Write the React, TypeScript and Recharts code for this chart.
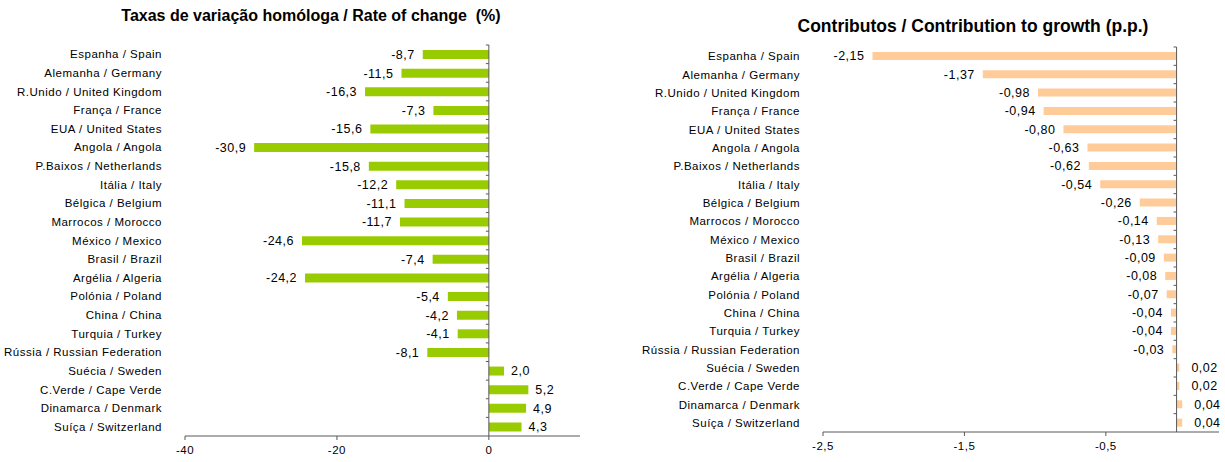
import React from "react";
import {
  BarChart,
  Bar,
  XAxis,
  YAxis,
  ReferenceLine,
  LabelList
} from "recharts";

const countries = [
  "Espanha / Spain",
  "Alemanha / Germany",
  "R.Unido / United Kingdom",
  "França / France",
  "EUA / United States",
  "Angola / Angola",
  "P.Baixos / Netherlands",
  "Itália / Italy",
  "Bélgica / Belgium",
  "Marrocos / Morocco",
  "México / Mexico",
  "Brasil / Brazil",
  "Argélia / Algeria",
  "Polónia / Poland",
  "China / China",
  "Turquia / Turkey",
  "Rússia / Russian Federation",
  "Suécia / Sweden",
  "C.Verde / Cape Verde",
  "Dinamarca / Denmark",
  "Suíça / Switzerland"
];

const rateOfChange = [
  -8.7, -11.5, -16.3, -7.3, -15.6, -30.9, -15.8, -12.2, -11.1, -11.7, -24.6,
  -7.4, -24.2, -5.4, -4.2, -4.1, -8.1, 2.0, 5.2, 4.9, 4.3
];

const contribution = [
  -2.15, -1.37, -0.98, -0.94, -0.8, -0.63, -0.62, -0.54, -0.26, -0.14, -0.13,
  -0.09, -0.08, -0.07, -0.04, -0.04, -0.03, 0.02, 0.02, 0.04, 0.04
];

const leftTicks = [-40, -20, 0];
const rightTicks = [-2.5, -1.5, -0.5];

const rateData = countries.map((name, i) => ({ name, v: rateOfChange[i] }));
const contribData = countries.map((name, i) => ({ name, v: contribution[i] }));

const FONT = "'Liberation Sans', Arial, sans-serif";
const AXIS = "#595959";
const tickStyle = { fill: "#000", fontSize: 11.5, fontFamily: FONT, letterSpacing: 0.5 };

const fmt = (d: number) => (v: number) => v.toFixed(d).replace(".", ",");

function makeLabel(decimals: number, gapNeg: number, gapPos: number) {
  return (props: any) => {
    const { x, y, width, height, value } = props;
    const left = Math.min(x, x + width);
    const right = Math.max(x, x + width);
    const neg = value < 0;
    return (
      <text
        x={neg ? left - gapNeg : right + gapPos}
        y={y + height / 2}
        dy="0.35em"
        textAnchor={neg ? "end" : "start"}
        fontSize={12.5}
        letterSpacing={0.5}
        fontFamily={FONT}
        fill="#000"
      >
        {fmt(decimals)(value)}
      </text>
    );
  };
}

// zero line acting as the category axis, with small ticks between categories
function zeroAxis(n: number) {
  return (props: any) => {
    const { x1, y1, x2, y2 } = props;
    const top = Math.min(y1, y2);
    const bot = Math.max(y1, y2);
    const step = (bot - top) / n;
    const marks = [];
    for (let i = 0; i < n; i++) {
      const yy = top + i * step;
      marks.push(<line key={i} x1={x1 - 3} x2={x1} y1={yy} y2={yy} stroke={AXIS} />);
    }
    return (
      <g>
        <line x1={x1} x2={x2} y1={y1} y2={y2} stroke={AXIS} />
        {marks}
      </g>
    );
  };
}

function HBars(props: {
  data: { name: string; v: number }[];
  width: number;
  height: number;
  margin: { top: number; right: number; bottom: number; left: number };
  yWidth: number;
  domain: [number, number];
  ticks: number[];
  tickDecimals: number;
  labelDecimals: number;
  posGap: number;
  fill: string;
  xHeight: number;
  gap: string;
}) {
  return (
    <BarChart
      width={props.width}
      height={props.height}
      data={props.data}
      layout="vertical"
      margin={props.margin}
      barCategoryGap={props.gap}
    >
      <XAxis
        type="number"
        domain={props.domain}
        ticks={props.ticks}
        allowDataOverflow
        tickFormatter={fmt(props.tickDecimals)}
        stroke={AXIS}
        tick={tickStyle}
        tickSize={4}
        tickMargin={6}
        height={props.xHeight}
      />
      <YAxis
        type="category"
        dataKey="name"
        width={props.yWidth}
        axisLine={false}
        tickLine={false}
        tickSize={21}
        interval={0}
        tick={tickStyle}
      />
      <Bar dataKey="v" fill={props.fill} isAnimationActive={false}>
        <LabelList dataKey="v" content={makeLabel(props.labelDecimals, 8, props.posGap)} />
      </Bar>
      <ReferenceLine x={0} stroke={AXIS} shape={zeroAxis(props.data.length)} />
    </BarChart>
  );
}

export default function App() {
  return (
    <div
      style={{
        position: "absolute",
        left: 0,
        top: 0,
        width: 1225,
        height: 462,
        background: "#fff",
        fontFamily: FONT
      }}
    >
      <div
        style={{
          position: "absolute",
          left: 0,
          width: 622,
          top: 7,
          textAlign: "center",
          fontWeight: "bold",
          fontSize: 16
        }}
      >
        Taxas de variação homóloga / Rate of change&nbsp;&nbsp;(%)
      </div>
      <div
        style={{
          position: "absolute",
          left: 773,
          width: 400,
          top: 16,
          textAlign: "center",
          fontWeight: "bold",
          fontSize: 17.5
        }}
      >
        Contributos / Contribution to growth (p.p.)
      </div>
      <div style={{ position: "absolute", left: 0, top: 0 }}>
        <HBars
          data={rateData}
          width={600}
          height={462}
          margin={{ top: 45, right: 20, bottom: 0, left: 0 }}
          yWidth={185}
          domain={[-40, 12]}
          ticks={leftTicks}
          tickDecimals={0}
          labelDecimals={1}
          posGap={7}
          fill="#99CC00"
          xHeight={26}
          gap="27%"
        />
      </div>
      <div style={{ position: "absolute", left: 600, top: 0 }}>
        <HBars
          data={contribData}
          width={625}
          height={462}
          margin={{ top: 47, right: 6, bottom: 0, left: 0 }}
          yWidth={223}
          domain={[-2.5, 0.3]}
          ticks={rightTicks}
          tickDecimals={1}
          labelDecimals={2}
          posGap={12}
          fill="#FFCC99"
          xHeight={30}
          gap="27%"
        />
      </div>
    </div>
  );
}
